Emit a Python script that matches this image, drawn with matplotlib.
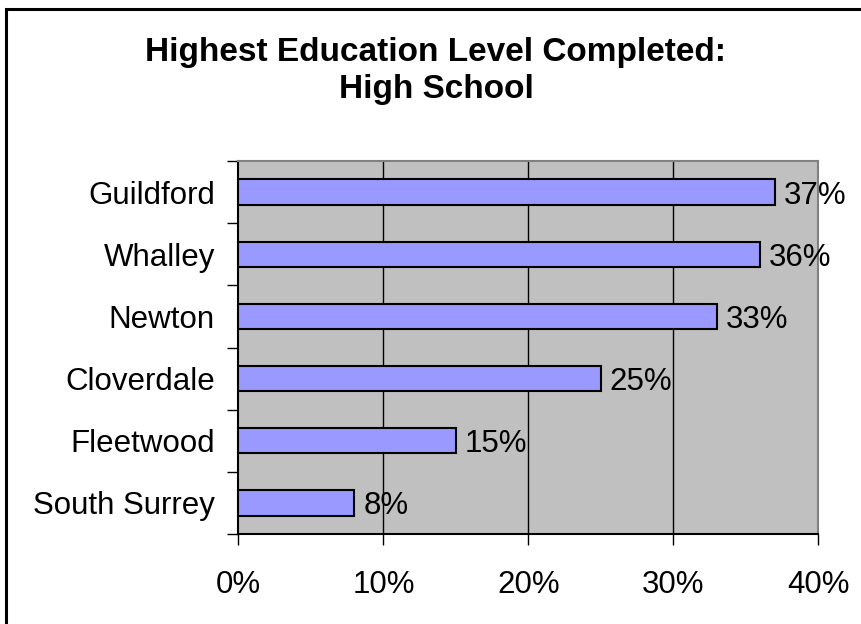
import matplotlib
matplotlib.use("Agg")
import matplotlib.pyplot as plt
from matplotlib.patches import Rectangle
from matplotlib.ticker import FixedLocator

# data, top to bottom
areas = ["Guildford", "Whalley", "Newton", "Cloverdale", "Fleetwood", "South Surrey"]
pct = [37, 36, 33, 25, 15, 8]
xticks = [0, 10, 20, 30, 40]

plt.rcParams['font.family'] = ['Liberation Sans', 'DejaVu Sans']

fig = plt.figure(figsize=(8.62, 6.24), dpi=100)
# outer chart border (right/bottom run off the picture)
fig.patches.append(Rectangle((6/862, -0.1), 1.2, 1 - 9/624 + 0.1, transform=fig.transFigure,
                             fill=False, edgecolor='black', linewidth=2.2))

ax = fig.add_axes([238.5/862, 90/624, 580/862, 373/624])
ax.set_facecolor('#C0C0C0')

n = len(areas)
ypos = list(range(n - 1, -1, -1))
ax.barh(ypos, pct, height=0.41, color='#9999FF', edgecolor='black', linewidth=1.5, zorder=3)

for y, v in zip(ypos, pct):
    ax.text(v + 0.6, y, f"{v}%", va='center_baseline', ha='left', fontsize=22.5, zorder=4)

ax.set_xlim(0, 40)
ax.set_ylim(-0.5, n - 0.5)
ax.set_xticks(xticks)
ax.set_xticklabels([f"{t}%" for t in xticks], fontsize=22.5)
for t in xticks[1:-1]:
    ax.axvline(t, color='black', linewidth=1, zorder=1)

ax.set_yticks(ypos)
ax.set_yticklabels(areas, fontsize=22.5, va='center_baseline')
ax.yaxis.set_minor_locator(FixedLocator([i - 0.5 for i in range(n + 1)]))
ax.tick_params(axis='y', which='major', length=0, pad=17)
ax.tick_params(axis='y', which='minor', length=8, width=1, direction='out')
ax.tick_params(axis='x', length=8, width=1, direction='out', pad=18)

for s in ['top', 'right']:
    ax.spines[s].set_color('#808080')
    ax.spines[s].set_linewidth(1.5)
for s in ['left', 'bottom']:
    ax.spines[s].set_color('black')
    ax.spines[s].set_linewidth(1.5)

fig.text(436/862, 1 - 37/624, "Highest Education Level Completed:\nHigh School",
         ha='center', va='top', fontsize=24, fontweight='bold', linespacing=1.25)

fig.savefig("out.png", dpi=100)
